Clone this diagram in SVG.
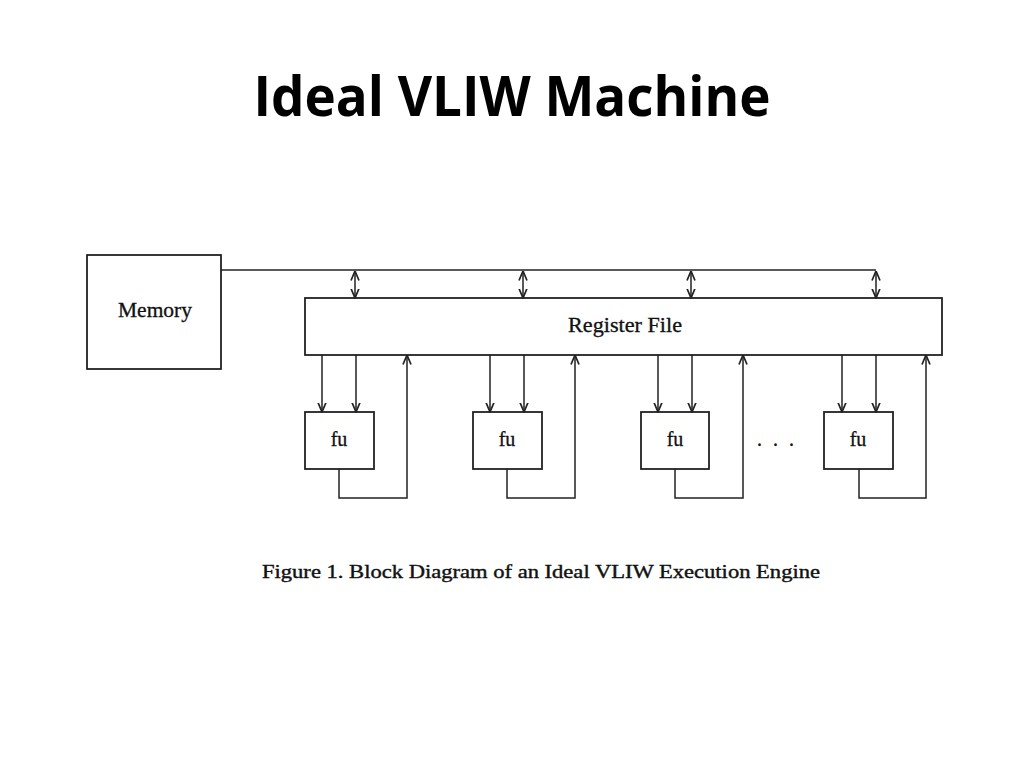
<svg xmlns="http://www.w3.org/2000/svg" width="1024" height="768" viewBox="0 0 1024 768">
<style>
.box{fill:none;stroke:#222;stroke-width:1.8}
.ln{fill:none;stroke:#222;stroke-width:1.5}
.lbl{font-family:"Liberation Serif","Times New Roman",serif;font-size:20px;fill:#111;stroke:#111;stroke-width:0.3;text-anchor:middle}
.title{font-family:"Open Sans","Liberation Sans",sans-serif;font-weight:bold;font-size:56px;fill:#000;text-anchor:middle}
.cap{font-family:"Liberation Serif","Times New Roman",serif;font-size:19px;fill:#111;stroke:#111;stroke-width:0.4}
</style>
<defs>
<marker id="ah" viewBox="0 0 10 10" refX="9.5" refY="5" markerWidth="10" markerHeight="10" markerUnits="userSpaceOnUse" orient="auto-start-reverse">
<path d="M0,1 L9.5,5 L0,9" fill="none" stroke="#222" stroke-width="1.7"/>
</marker>
</defs>
<rect width="1024" height="768" fill="#fff"/>
<text class="title" x="512" y="116" textLength="517" lengthAdjust="spacingAndGlyphs">Ideal VLIW Machine</text>

<g id="memory"><rect class="box" x="87" y="255" width="134" height="114"/><text class="lbl" x="155" y="317" textLength="74" lengthAdjust="spacingAndGlyphs">Memory</text></g>
<g id="regfile"><rect class="box" x="305" y="298" width="637" height="57"/><text class="lbl" x="625" y="332" textLength="114" lengthAdjust="spacingAndGlyphs">Register File</text></g>
<g id="fu1"><rect class="box" x="305" y="412" width="69" height="57"/><text class="lbl" x="339" y="446">fu</text></g>
<g id="fu2"><rect class="box" x="473" y="412" width="69" height="57"/><text class="lbl" x="507" y="446">fu</text></g>
<g id="fu3"><rect class="box" x="641" y="412" width="68" height="57"/><text class="lbl" x="675" y="446">fu</text></g>
<g id="fu4"><rect class="box" x="824" y="412" width="69" height="57"/><text class="lbl" x="858" y="446">fu</text></g>
<g id="dots"><text class="lbl" x="777" y="446" letter-spacing="3">. . .</text></g>

<g id="connectors">
<path class="ln" d="M221,270 H876"/>
<line class="ln" x1="355" y1="271" x2="355" y2="298" marker-start="url(#ah)" marker-end="url(#ah)"/>
<line class="ln" x1="523" y1="271" x2="523" y2="298" marker-start="url(#ah)" marker-end="url(#ah)"/>
<line class="ln" x1="691" y1="271" x2="691" y2="298" marker-start="url(#ah)" marker-end="url(#ah)"/>
<line class="ln" x1="876" y1="271" x2="876" y2="298" marker-start="url(#ah)" marker-end="url(#ah)"/>

<line class="ln" x1="322" y1="355" x2="322" y2="412" marker-end="url(#ah)"/>
<line class="ln" x1="356" y1="355" x2="356" y2="412" marker-end="url(#ah)"/>
<path class="ln" d="M339,469 V498 H407 V355" marker-end="url(#ah)"/>

<line class="ln" x1="490" y1="355" x2="490" y2="412" marker-end="url(#ah)"/>
<line class="ln" x1="524" y1="355" x2="524" y2="412" marker-end="url(#ah)"/>
<path class="ln" d="M507,469 V498 H575 V355" marker-end="url(#ah)"/>

<line class="ln" x1="658" y1="355" x2="658" y2="412" marker-end="url(#ah)"/>
<line class="ln" x1="692" y1="355" x2="692" y2="412" marker-end="url(#ah)"/>
<path class="ln" d="M675,469 V498 H743 V355" marker-end="url(#ah)"/>

<line class="ln" x1="842" y1="355" x2="842" y2="412" marker-end="url(#ah)"/>
<line class="ln" x1="876" y1="355" x2="876" y2="412" marker-end="url(#ah)"/>
<path class="ln" d="M859,469 V498 H926 V355" marker-end="url(#ah)"/>
</g>

<text class="cap" x="262" y="578" textLength="558" lengthAdjust="spacingAndGlyphs">Figure 1. Block Diagram of an Ideal VLIW Execution Engine</text>
</svg>
